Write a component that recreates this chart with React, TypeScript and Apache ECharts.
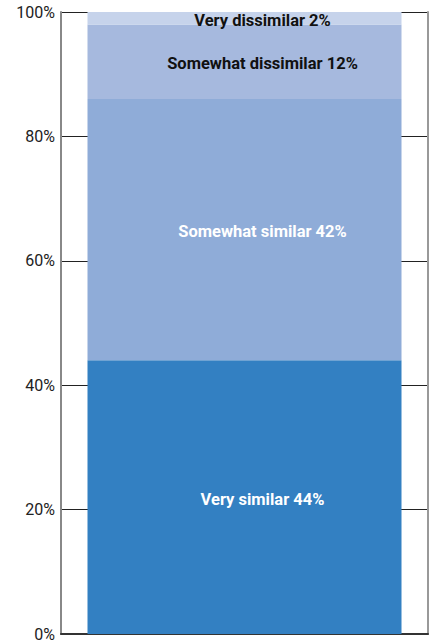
import React, { useEffect, useRef } from "react";
import * as echarts from "echarts";

const categories = ["All"];
const seriesNames = ["Very similar", "Somewhat similar", "Somewhat dissimilar", "Very dissimilar"];
const seriesValues = [44, 42, 12, 2];
const seriesColors = ["#3380C2", "#8FACD8", "#A6B9DE", "#C6D3EB"];
const labelColors = ["#ffffff", "#ffffff", "#111111", "#111111"];
const yTicks = [0, 20, 40, 60, 80, 100];

export default function App() {
  const ref = useRef<HTMLDivElement>(null);
  useEffect(() => {
    if (!ref.current) return;
    const chart = echarts.init(ref.current, null, { renderer: "svg" });
    chart.setOption({
      animation: false,
      grid: { left: 61, right: 1, top: 12, bottom: 7, containLabel: false },
      xAxis: {
        type: "category",
        data: categories,
        axisLine: { show: true, lineStyle: { color: "#333", width: 2 } },
        axisTick: { show: false },
        axisLabel: { show: false },
      },
      yAxis: [
        {
          type: "value",
          min: yTicks[0],
          max: yTicks[yTicks.length - 1],
          interval: 20,
          axisLine: { show: true, lineStyle: { color: "#888", width: 2 } },
          axisTick: { show: false },
          axisLabel: {
            formatter: "{value}%",
            fontFamily: "Roboto, 'Liberation Sans', sans-serif",
            fontSize: 16,
            color: "#222",
            margin: 6,
          },
          splitLine: { show: true, lineStyle: { color: "#222", width: 1 } },
        },
        {
          type: "value",
          position: "right",
          min: 0,
          max: 100,
          interval: 20,
          axisLine: { show: true, lineStyle: { color: "#999", width: 2 } },
          axisTick: { show: false },
          axisLabel: { show: false },
          splitLine: { show: false },
        },
      ],
      series: seriesNames.map((name, i) => ({
        name,
        type: "bar",
        stack: "total",
        yAxisIndex: 0,
        barWidth: 314,
        data: [seriesValues[i]],
        itemStyle: { color: seriesColors[i] },
        label: {
          show: true,
          position: "inside",
          offset: [18, 2],
          formatter: `${name} ${seriesValues[i]}%`,
          color: labelColors[i],
          fontFamily: "Roboto, 'Liberation Sans', sans-serif",
          fontWeight: "bold",
          fontSize: 16.5,
        },
      })),
    });
    return () => chart.dispose();
  }, []);
  return <div ref={ref} style={{ width: 429, height: 642, position: "absolute", left: 0, top: 0 }} />;
}
